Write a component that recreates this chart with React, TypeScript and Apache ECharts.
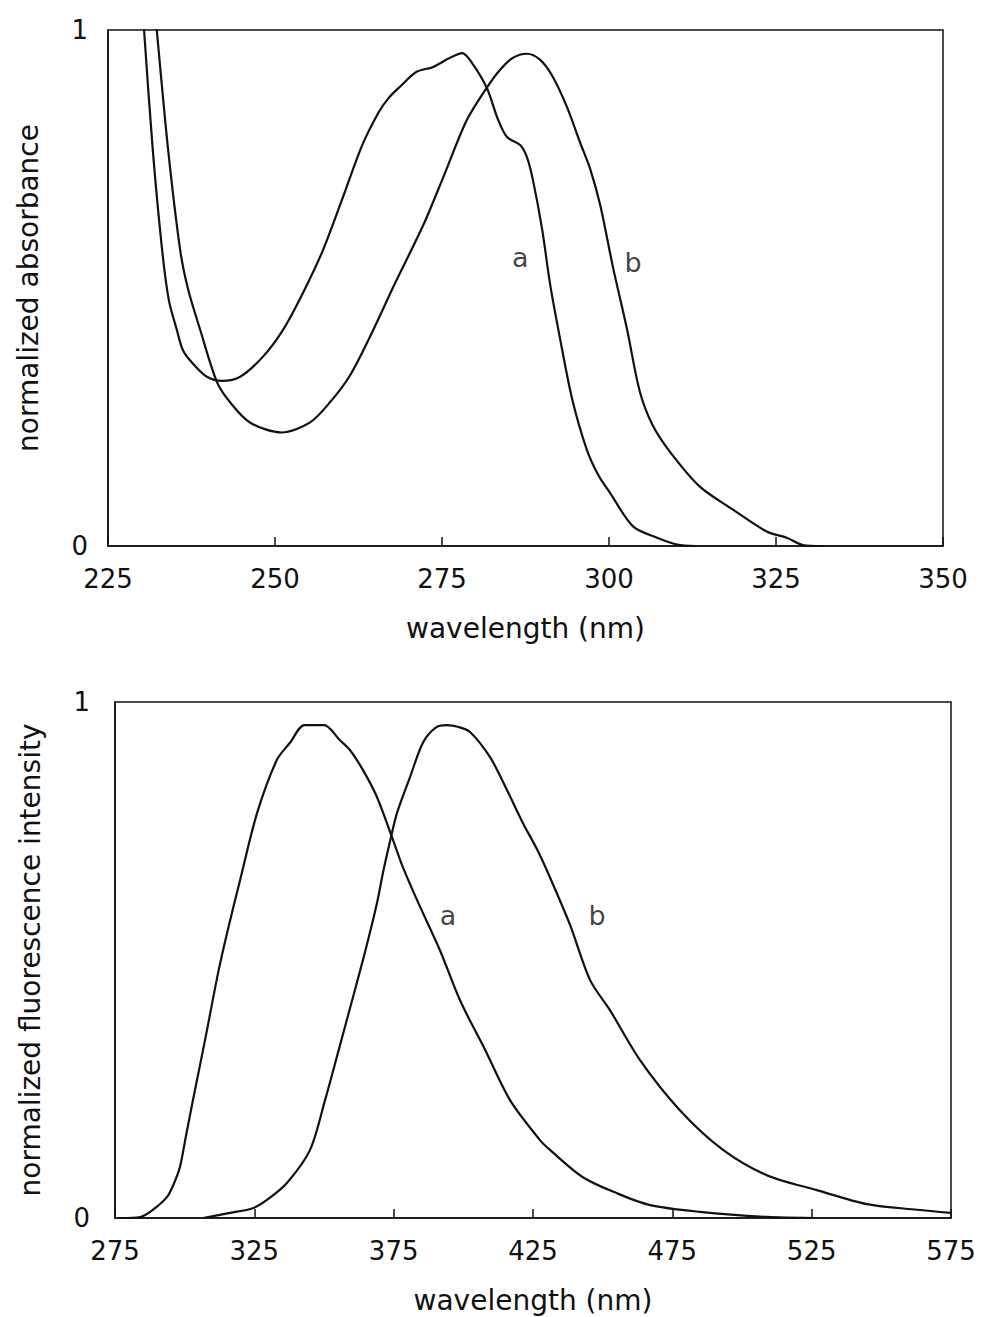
import React, { useEffect, useRef } from "react";
import * as echarts from "echarts";

// ---------- Top panel: absorbance ----------
const absTickLabels = [225, 250, 275, 300, 325, 350];
const absYTicks = [0, 1];

const absWavelengthA = [229.9, 230.4, 231.7, 233.1, 234.1, 235.3, 236.2, 237.6, 239.8, 242.1, 244.8, 248.2, 251.2, 254.2, 257.2, 260.2, 263.0, 265.5, 267.0, 268.7, 271.2, 273.6, 276.2, 278.0, 279.5, 281.7, 283.4, 284.7, 286.7, 287.7, 288.6, 290.0, 291.2, 292.7, 294.5, 296.7, 298.5, 300.1, 303.6, 307.2, 310.2, 313.0];
const absA = [1.1, 1.0, 0.768, 0.574, 0.477, 0.419, 0.38, 0.355, 0.328, 0.32, 0.328, 0.367, 0.419, 0.491, 0.574, 0.677, 0.775, 0.84, 0.868, 0.89, 0.919, 0.928, 0.946, 0.955, 0.936, 0.888, 0.826, 0.793, 0.777, 0.754, 0.71, 0.613, 0.506, 0.4, 0.284, 0.186, 0.135, 0.104, 0.038, 0.016, 0.003, 0];

const absWavelengthB = [231.6, 232.3, 234.0, 235.8, 237.0, 238.8, 241.3, 243.3, 246.3, 251.0, 255.2, 258.2, 261.2, 264.2, 268.0, 272.2, 275.2, 278.7, 281.7, 283.7, 285.6, 287.7, 289.7, 291.6, 293.7, 295.7, 297.2, 298.7, 300.6, 302.7, 304.6, 306.5, 309.1, 313.6, 318.5, 323.6, 326.6, 329.0, 332.0];
const absB = [1.1, 1.0, 0.768, 0.574, 0.497, 0.419, 0.318, 0.278, 0.239, 0.22, 0.239, 0.278, 0.33, 0.405, 0.51, 0.622, 0.715, 0.825, 0.888, 0.923, 0.946, 0.954, 0.942, 0.909, 0.851, 0.781, 0.73, 0.66, 0.54, 0.42, 0.3, 0.235, 0.183, 0.115, 0.071, 0.028, 0.016, 0.002, 0];

const absLabelNames = ["a", "b"];
const absLabelX = [286.7, 303.6];
const absLabelY = [0.56, 0.55];

// ---------- Bottom panel: fluorescence ----------
const fluoTickLabels = [275, 325, 375, 425, 475, 525, 575];
const fluoYTicks = [0, 1];

const fluoWavelengthA = [277.0, 284.0, 288.6, 293.7, 296.0, 298.3, 300.5, 303.0, 307.5, 312.0, 315.2, 319.9, 326.0, 333.1, 337.8, 343.0, 350.0, 355.7, 359.3, 364.0, 369.0, 374.4, 378.3, 383.4, 391.6, 398.8, 407.8, 416.7, 427.5, 431.1, 442.9, 455.1, 467.0, 484.9, 508.9, 525.0];
const fluoA = [0, 0.002, 0.016, 0.041, 0.065, 0.099, 0.16, 0.229, 0.35, 0.475, 0.552, 0.655, 0.785, 0.888, 0.921, 0.955, 0.955, 0.926, 0.907, 0.868, 0.816, 0.738, 0.68, 0.616, 0.519, 0.422, 0.326, 0.229, 0.151, 0.132, 0.079, 0.048, 0.025, 0.012, 0.002, 0];

const fluoWavelengthB = [306.6, 316.3, 324.5, 329.5, 336.7, 345.0, 350.4, 355.0, 360.0, 364.7, 369.0, 371.2, 373.7, 376.2, 380.9, 385.5, 390.0, 394.1, 398.0, 402.4, 409.6, 415.7, 421.4, 426.4, 431.1, 438.3, 445.5, 452.6, 463.4, 477.7, 493.2, 508.9, 526.9, 544.8, 562.8, 575.0];
const fluoB = [0, 0.01, 0.019, 0.035, 0.068, 0.132, 0.229, 0.32, 0.42, 0.515, 0.61, 0.67, 0.73, 0.785, 0.855, 0.921, 0.95, 0.955, 0.952, 0.942, 0.893, 0.829, 0.765, 0.715, 0.66, 0.568, 0.461, 0.403, 0.306, 0.209, 0.132, 0.083, 0.054, 0.027, 0.016, 0.01];

const fluoLabelNames = ["a", "b"];
const fluoLabelX = [394.5, 448.0];
const fluoLabelY = [0.587, 0.587];

const FONT = "DejaVu Sans";
const INK = "#111";

function zip(xs: number[], ys: number[]) {
  return xs.map((x, i) => [x, ys[i]]);
}

function xAxisFor(grid: number, min: number, max: number, ticks: number[], labelMargin: number, nameGap: number) {
  return {
    type: "value",
    gridIndex: grid,
    min,
    max,
    name: "wavelength (nm)",
    nameLocation: "middle",
    nameGap,
    nameTextStyle: { fontFamily: FONT, fontSize: 28, color: INK },
    axisLine: { show: true, lineStyle: { color: INK, width: 1.5 } },
    axisTick: { show: true, inside: true, length: 9, customValues: ticks, lineStyle: { color: INK, width: 1.5 } },
    axisLabel: { show: true, customValues: ticks, margin: labelMargin, fontFamily: FONT, fontSize: 26, color: INK },
    splitLine: { show: false },
  };
}

function yAxisFor(grid: number, name: string, ticks: number[], labelMargin: number, nameGap: number) {
  return {
    type: "value",
    gridIndex: grid,
    min: 0,
    max: 1,
    name,
    nameLocation: "middle",
    nameGap,
    nameTextStyle: { fontFamily: FONT, fontSize: 28, color: INK },
    axisLine: { show: true, lineStyle: { color: INK, width: 1.5 } },
    axisTick: { show: false },
    axisLabel: { show: true, customValues: ticks, margin: labelMargin, fontFamily: FONT, fontSize: 26, color: INK },
    splitLine: { show: false },
  };
}

function curve(grid: number, xs: number[], ys: number[]) {
  return {
    type: "line",
    xAxisIndex: grid,
    yAxisIndex: grid,
    data: zip(xs, ys),
    smooth: 0.3,
    symbol: "none",
    clip: true,
    lineStyle: { color: INK, width: 2.2 },
    silent: true,
  };
}

function labels(grid: number, names: string[], xs: number[], ys: number[]) {
  return {
    type: "scatter",
    xAxisIndex: grid,
    yAxisIndex: grid,
    symbolSize: 1,
    itemStyle: { color: "rgba(0,0,0,0)" },
    data: names.map((n, i) => ({ name: n, value: [xs[i], ys[i]] })),
    label: {
      show: true,
      position: "inside",
      formatter: (p: any) => p.name,
      fontFamily: FONT,
      fontSize: 27,
      color: INK,
    },
    silent: true,
  };
}

export default function App() {
  const ref = useRef<HTMLDivElement>(null);
  useEffect(() => {
    if (!ref.current) return;
    const chart = echarts.init(ref.current, undefined, { renderer: "svg" });
    chart.setOption({
      animation: false,
      backgroundColor: "#ffffff",
      grid: [
        { left: 108, top: 30, width: 835, height: 516, show: true, borderColor: INK, borderWidth: 1.5, backgroundColor: "transparent" },
        { left: 115, top: 702, width: 836, height: 516, show: true, borderColor: INK, borderWidth: 1.5, backgroundColor: "transparent" },
      ],
      xAxis: [
        xAxisFor(0, 225, 350, absTickLabels, 20, 68),
        xAxisFor(1, 275, 575, fluoTickLabels, 20, 68),
      ],
      yAxis: [
        yAxisFor(0, "normalized absorbance", absYTicks, 20, 66),
        yAxisFor(1, "normalized fluorescence intensity", fluoYTicks, 25, 71),
      ],
      series: [
        curve(0, absWavelengthA, absA),
        curve(0, absWavelengthB, absB),
        labels(0, absLabelNames, absLabelX, absLabelY),
        curve(1, fluoWavelengthA, fluoA),
        curve(1, fluoWavelengthB, fluoB),
        labels(1, fluoLabelNames, fluoLabelX, fluoLabelY),
      ],
    });
    return () => chart.dispose();
  }, []);
  return (
    <div
      ref={ref}
      style={{ position: "absolute", left: 0, top: 0, width: 983, height: 1317, background: "#fff" }}
    />
  );
}
